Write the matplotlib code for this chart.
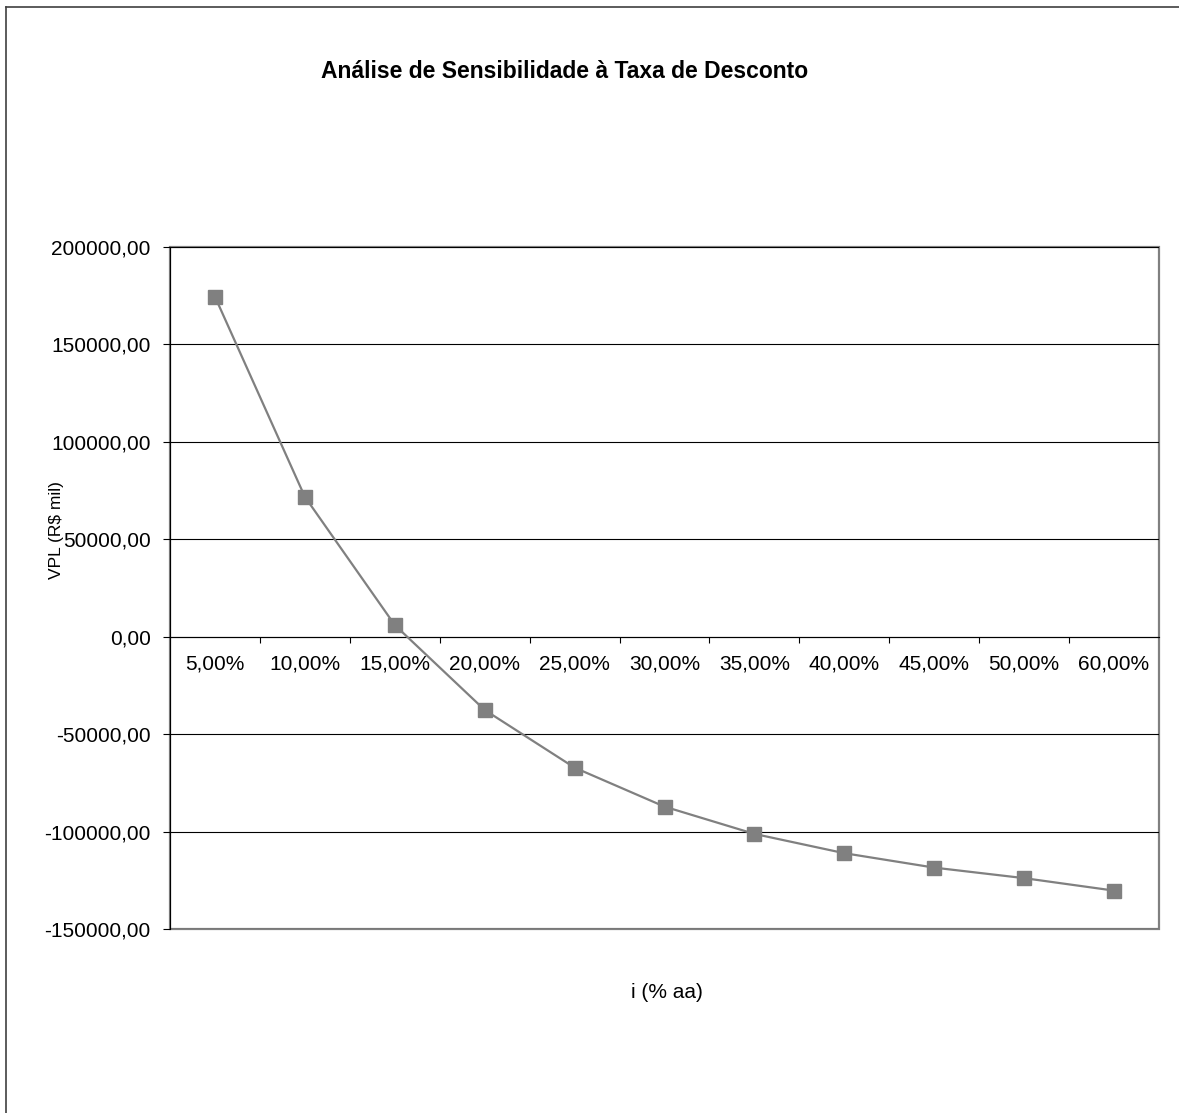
import matplotlib
matplotlib.use("Agg")
import matplotlib.pyplot as plt
import matplotlib.ticker as mticker
from matplotlib.patches import Rectangle
from matplotlib.lines import Line2D

plt.rcParams["font.family"] = ["Liberation Sans", "DejaVu Sans"]

# ── data ──────────────────────────────────────────────────────────────────────
taxas = ["5,00%", "10,00%", "15,00%", "20,00%", "25,00%", "30,00%",
         "35,00%", "40,00%", "45,00%", "50,00%", "60,00%"]
vpl = [174500, 71800, 6000, -37600, -67200, -87200,
       -101200, -111100, -118500, -123900, -130300]
y_ticks = [-150000, -100000, -50000, 0, 50000, 100000, 150000, 200000]

W, H = 1179, 1113
fig = plt.figure(figsize=(W / 100, H / 100), dpi=100)
ax = fig.add_axes([170 / W, 1 - 929 / H, 989 / W, 682 / H])

x = list(range(len(taxas)))
ax.plot(x, vpl, color="#808080", lw=1.6, marker="s", ms=10.5,
        mfc="#808080", mec="#808080", zorder=5, clip_on=False)

ax.set_xlim(-0.5, len(taxas) - 0.5)
ax.set_ylim(y_ticks[0], y_ticks[-1])

# y axis
ax.set_yticks(y_ticks)
ax.yaxis.set_major_formatter(mticker.FuncFormatter(
    lambda v, _: f"{v:.2f}".replace(".", ",")))
ax.tick_params(axis="y", direction="out", length=5, width=0.8,
               pad=9, labelsize=15, color="black")
ax.grid(axis="y", color="black", lw=0.8)

# x axis crossing at zero, ticks at category boundaries, labels at centers
ax.spines["bottom"].set_position(("data", 0))
ax.spines["bottom"].set_color("black")
ax.spines["bottom"].set_linewidth(0.8)
ax.set_xticks([i + 0.5 for i in x[:-1]])
ax.set_xticklabels([])
ax.set_xticks(x, minor=True)
ax.set_xticklabels(taxas, minor=True)
ax.tick_params(axis="x", which="major", direction="out", length=4,
               width=0.8, color="black")
ax.tick_params(axis="x", which="minor", length=0, pad=13, labelsize=15)

ax.spines["left"].set_color("black")
ax.spines["left"].set_linewidth(0.8)
for s in ["top", "right"]:
    ax.spines[s].set_visible(False)

# plot-area frame
ax.add_patch(Rectangle((0, 0), 1, 1, transform=ax.transAxes, fill=False,
                       ec="#808080", lw=1.6, clip_on=False, zorder=0))

# texts
fig.text(565 / W, 1 - 71 / H, "Análise de Sensibilidade à Taxa de Desconto",
         ha="center", va="center", fontsize=16.5, fontweight="bold")
fig.text(667 / W, 1 - 993 / H, "i (% aa)", ha="center", va="center",
         fontsize=15)
fig.text(56 / W, 1 - 530 / H, "VPL (R$ mil)", ha="center", va="center",
         rotation=90, fontsize=12.5)

# chart-area border (left and top edges visible)
fig.add_artist(Line2D([6 / W, 6 / W], [0, 1 - 7 / H], color="#404040", lw=1.2))
fig.add_artist(Line2D([6 / W, 1], [1 - 7 / H, 1 - 7 / H], color="#404040", lw=1.2))

fig.savefig("out.png", dpi=100)
